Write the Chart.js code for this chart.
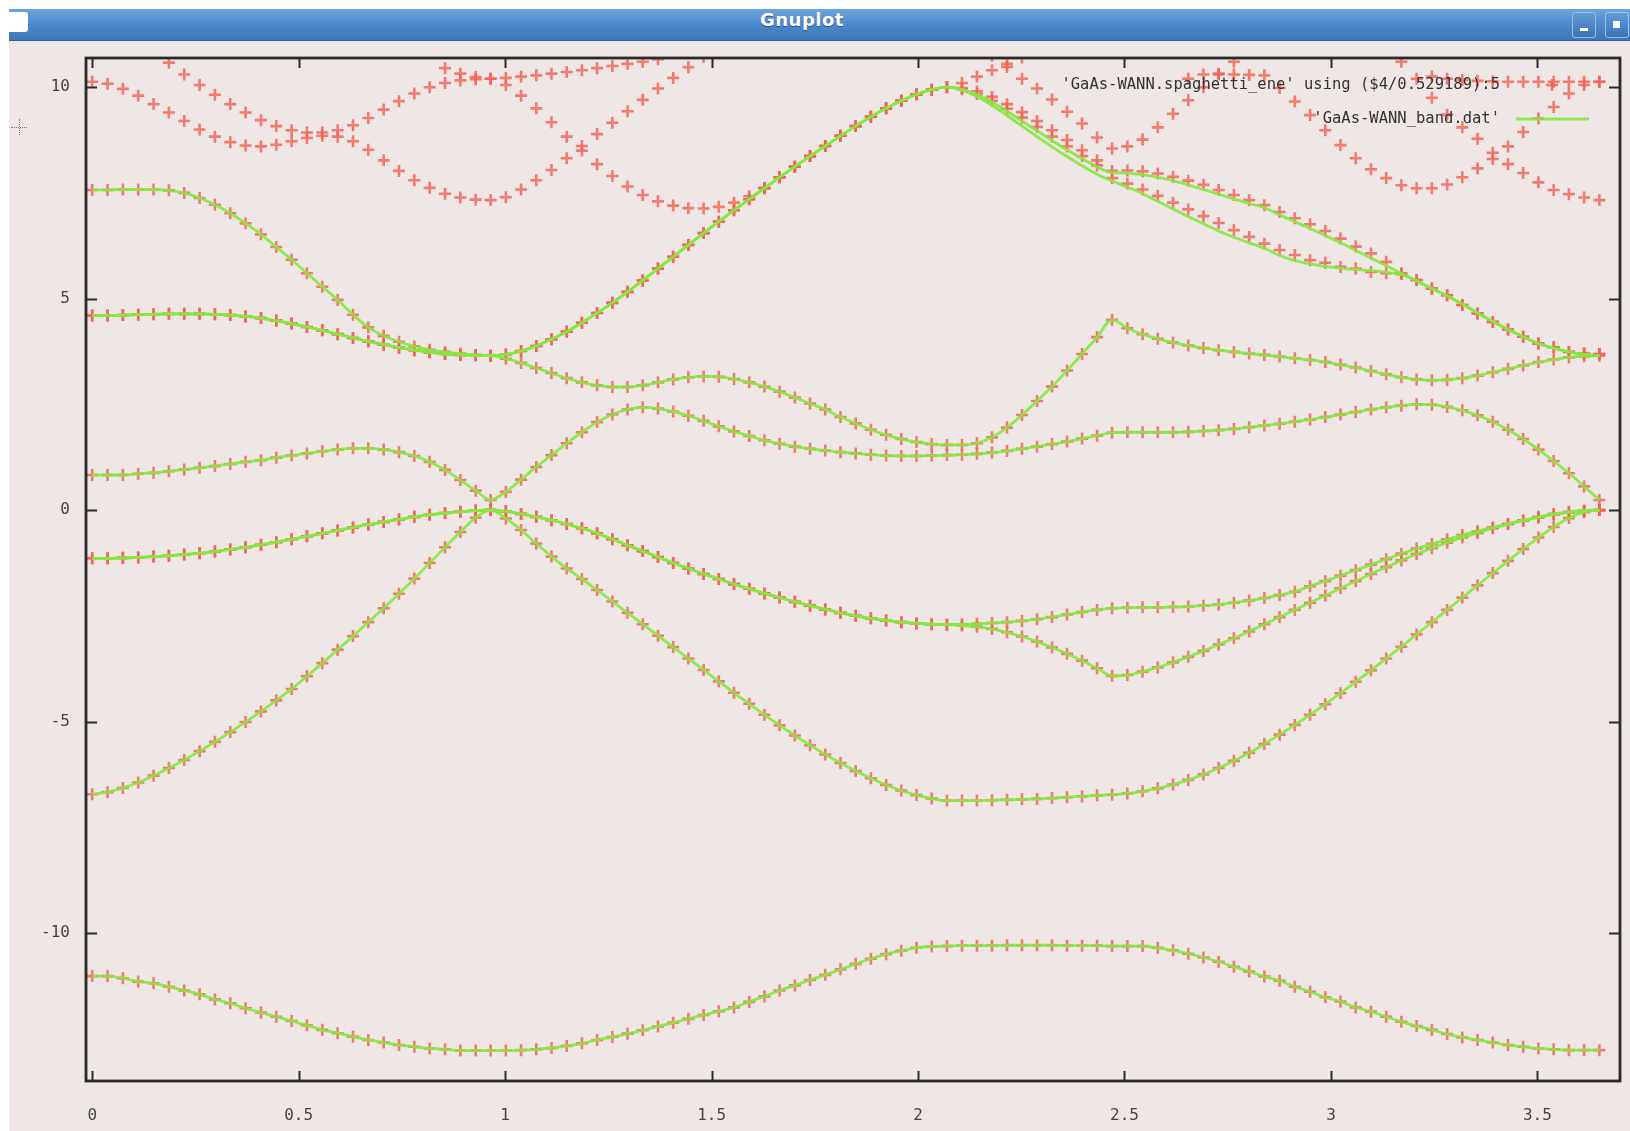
<!DOCTYPE html>
<html>
<head>
<meta charset="utf-8">
<title>Gnuplot</title>
<script src="https://cdn.jsdelivr.net/npm/chart.js@4.4.1/dist/chart.umd.min.js"></script>
<style>
  body { margin: 0; background: #fff; width: 1630px; height: 1131px; overflow: hidden; position: relative; }
  #win { position: absolute; left: 9px; top: 9px; width: 1621px; height: 1122px; background: #efe7e5; }
  #bar { position: absolute; left: 9px; top: 9px; width: 1621px; height: 31px;
         background: linear-gradient(#6ea5dd, #4a86c8 55%, #3c77ba); border-bottom: 1px solid #2f5f98; }
  #bar span { position: absolute; left: 0; width: 1586px; top: 0; line-height: 31px; text-align: center;
              color: #fff; font: bold 18px "DejaVu Sans", sans-serif; letter-spacing: 0.5px; text-shadow: 0 1px 1px #274d7c; }
  #icon { position: absolute; left: 9px; top: 12px; width: 19px; height: 20px; background: #fff; border-radius: 0 3px 3px 0; }
  .btn { position: absolute; top: 12px; width: 22px; height: 24px; border: 1px solid #9cc2ea; border-radius: 3px;
         background: linear-gradient(#5f9ad8, #3b76b9); }
  .btn i { position: absolute; background: #fff; }
  #cur1 { position: absolute; left: 11px; top: 127px; width: 16px; height: 0; border-top: 1px dotted #777; }
  #cur2 { position: absolute; left: 19px; top: 119px; width: 0; height: 16px; border-left: 1px dotted #777; }
  #box { position: absolute; left: 0; top: 0; width: 1630px; height: 1131px; }
</style>
</head>
<body>
<div id="win"></div>
<div id="bar"><span>Gnuplot</span></div>
<div id="icon"></div>
<div class="btn" style="left:1572px"><i style="left:7px;top:15px;width:8px;height:3px"></i></div>
<div class="btn" style="left:1605px"><i style="left:7px;top:8px;width:7px;height:7px"></i></div>
<div id="cur1"></div><div id="cur2"></div>
<div id="box"><canvas id="plot"></canvas></div>
<script>
// k-path positions (L - Gamma - X - K - Gamma), one per sample
var kPath = [0, 0.0372, 0.0743, 0.1115, 0.1486, 0.1858, 0.2229, 0.2601, 0.2972, 0.3344, 0.3715, 0.4087, 0.4458, 0.483, 0.5201, 0.5573, 0.5944, 0.6316, 0.6687, 0.7059, 0.743, 0.7802, 0.8173, 0.8545, 0.8916, 0.9288, 0.965,
  1.0018, 1.0387, 1.0755, 1.1123, 1.1492, 1.186, 1.2228, 1.2597, 1.2965, 1.3333, 1.3702, 1.407, 1.4438, 1.4807, 1.5175, 1.5543, 1.5912, 1.628, 1.6648, 1.7017, 1.7385, 1.7753, 1.8122, 1.849, 1.8858, 1.9227, 1.9595, 1.9963, 2.0332, 2.07,
  2.1064, 2.1427, 2.1791, 2.2155, 2.2518, 2.2882, 2.3245, 2.3609, 2.3973, 2.4336, 2.47,
  2.5069, 2.5438, 2.5806, 2.6175, 2.6544, 2.6913, 2.7281, 2.765, 2.8019, 2.8388, 2.8756, 2.9125, 2.9494, 2.9863, 3.0231, 3.06, 3.0969, 3.1338, 3.1706, 3.2075, 3.2444, 3.2813, 3.3181, 3.355, 3.3919, 3.4288, 3.4656, 3.5025, 3.5394, 3.5763, 3.6131, 3.65];

// Wannier interpolated bands (green lines), eV
var band1 = [-11.02, -11.02, -11.07, -11.15, -11.19, -11.27, -11.36, -11.45, -11.57, -11.66, -11.78, -11.88, -11.98, -12.08, -12.18, -12.29, -12.37, -12.45, -12.53, -12.59, -12.65, -12.69, -12.73, -12.75, -12.78, -12.78, -12.78,
  -12.78, -12.77, -12.75, -12.72, -12.67, -12.61, -12.53, -12.46, -12.38, -12.3, -12.21, -12.12, -12.03, -11.94, -11.85, -11.76, -11.63, -11.5, -11.36, -11.24, -11.11, -10.99, -10.86, -10.73, -10.61, -10.5, -10.42, -10.35, -10.32, -10.31,
  -10.3, -10.3, -10.3, -10.29, -10.29, -10.29, -10.29, -10.3, -10.3, -10.3, -10.31,
  -10.31, -10.31, -10.35, -10.41, -10.49, -10.58, -10.68, -10.8, -10.91, -11.03, -11.13, -11.27, -11.39, -11.52, -11.62, -11.76, -11.86, -11.98, -12.1, -12.2, -12.29, -12.39, -12.47, -12.53, -12.59, -12.65, -12.69, -12.73, -12.75, -12.77, -12.77, -12.77];
var band2 = [-6.72, -6.67, -6.57, -6.44, -6.28, -6.1, -5.91, -5.7, -5.48, -5.25, -5.01, -4.76, -4.5, -4.23, -3.93, -3.62, -3.3, -2.98, -2.65, -2.32, -1.98, -1.62, -1.25, -0.88, -0.52, -0.18, 0,
  -0.2, -0.47, -0.79, -1.1, -1.38, -1.63, -1.89, -2.16, -2.43, -2.7, -2.97, -3.24, -3.51, -3.78, -4.05, -4.32, -4.58, -4.84, -5.09, -5.33, -5.56, -5.78, -5.98, -6.17, -6.34, -6.5, -6.63, -6.74, -6.82, -6.87,
  -6.87, -6.87, -6.86, -6.85, -6.84, -6.83, -6.81, -6.79, -6.77, -6.75, -6.73,
  -6.7, -6.65, -6.58, -6.49, -6.38, -6.25, -6.1, -5.93, -5.74, -5.53, -5.31, -5.08, -4.84, -4.59, -4.33, -4.06, -3.79, -3.51, -3.23, -2.94, -2.65, -2.36, -2.07, -1.78, -1.49, -1.2, -0.92, -0.65, -0.4, -0.19, -0.05, 0];
var band3 = [-1.14, -1.14, -1.13, -1.12, -1.1, -1.08, -1.05, -1.02, -0.98, -0.93, -0.88, -0.82, -0.76, -0.69, -0.62, -0.55, -0.48, -0.41, -0.34, -0.28, -0.22, -0.16, -0.11, -0.07, -0.04, -0.01, 0,
  -0.03, -0.09, -0.16, -0.24, -0.33, -0.43, -0.55, -0.69, -0.83, -0.97, -1.11, -1.25, -1.38, -1.51, -1.63, -1.75, -1.86, -1.97, -2.07, -2.17, -2.26, -2.35, -2.43, -2.5, -2.56, -2.61, -2.65, -2.68, -2.7, -2.71,
  -2.73, -2.76, -2.81, -2.89, -2.99, -3.11, -3.25, -3.4, -3.56, -3.74, -3.92,
  -3.9, -3.82, -3.72, -3.6, -3.47, -3.33, -3.18, -3.03, -2.87, -2.7, -2.53, -2.36, -2.19, -2.02, -1.85, -1.68, -1.51, -1.35, -1.19, -1.04, -0.9, -0.77, -0.65, -0.54, -0.43, -0.33, -0.24, -0.16, -0.09, -0.04, -0.01, 0];
var band4 = [-1.14, -1.14, -1.13, -1.12, -1.1, -1.08, -1.05, -1.02, -0.98, -0.93, -0.88, -0.82, -0.76, -0.69, -0.62, -0.55, -0.48, -0.41, -0.34, -0.28, -0.22, -0.16, -0.11, -0.07, -0.04, -0.01, 0,
  -0.03, -0.09, -0.16, -0.24, -0.33, -0.43, -0.55, -0.69, -0.83, -0.97, -1.11, -1.25, -1.38, -1.51, -1.63, -1.75, -1.86, -1.97, -2.07, -2.17, -2.26, -2.35, -2.43, -2.5, -2.56, -2.61, -2.65, -2.68, -2.7, -2.71,
  -2.7, -2.69, -2.67, -2.65, -2.62, -2.58, -2.53, -2.47, -2.41, -2.36, -2.32,
  -2.31, -2.3, -2.3, -2.29, -2.28, -2.26, -2.23, -2.19, -2.14, -2.08, -2.01, -1.93, -1.8, -1.68, -1.55, -1.42, -1.29, -1.16, -1.03, -0.91, -0.8, -0.69, -0.59, -0.5, -0.41, -0.33, -0.25, -0.18, -0.11, -0.06, -0.02, 0];
var band5 = [0.83, 0.83, 0.83, 0.86, 0.88, 0.92, 0.96, 1.0, 1.04, 1.09, 1.14, 1.18, 1.24, 1.29, 1.34, 1.39, 1.43, 1.46, 1.46, 1.43, 1.37, 1.28, 1.14, 0.95, 0.71, 0.46, 0.24,
  0.43, 0.72, 1.02, 1.3, 1.58, 1.84, 2.08, 2.26, 2.38, 2.43, 2.4, 2.33, 2.23, 2.11, 1.98, 1.86, 1.75, 1.65, 1.57, 1.5, 1.45, 1.41, 1.37, 1.34, 1.31, 1.29, 1.28, 1.28, 1.29, 1.3,
  1.31, 1.33, 1.36, 1.4, 1.45, 1.5, 1.56, 1.62, 1.69, 1.76, 1.83,
  1.84, 1.84, 1.84, 1.84, 1.85, 1.87, 1.89, 1.92, 1.96, 2.0, 2.04, 2.09, 2.14, 2.2, 2.26, 2.32, 2.38, 2.43, 2.47, 2.5, 2.49, 2.44, 2.36, 2.24, 2.09, 1.9, 1.68, 1.43, 1.16, 0.87, 0.56, 0.24];
var band6 = [4.6, 4.6, 4.61, 4.62, 4.63, 4.64, 4.64, 4.64, 4.63, 4.61, 4.58, 4.54, 4.48, 4.41, 4.33, 4.25, 4.16, 4.07, 3.99, 3.91, 3.84, 3.78, 3.73, 3.69, 3.67, 3.66, 3.65,
  3.58, 3.48, 3.36, 3.24, 3.12, 3.02, 2.95, 2.91, 2.91, 2.95, 3.02, 3.09, 3.14, 3.16, 3.15, 3.1, 3.02, 2.92, 2.8, 2.66, 2.52, 2.38, 2.2, 2.05, 1.9, 1.78, 1.68, 1.61, 1.56, 1.54,
  1.54, 1.58, 1.72, 1.95, 2.25, 2.58, 2.92, 3.3, 3.69, 4.09, 4.5,
  4.3, 4.16, 4.05, 3.96, 3.89, 3.83, 3.78, 3.74, 3.7, 3.67, 3.63, 3.59, 3.55, 3.5, 3.44, 3.37, 3.29, 3.21, 3.14, 3.09, 3.07, 3.08, 3.12, 3.18, 3.26, 3.34, 3.42, 3.5, 3.56, 3.61, 3.64, 3.65];
var band7 = [4.6, 4.6, 4.61, 4.62, 4.63, 4.64, 4.64, 4.64, 4.63, 4.61, 4.58, 4.54, 4.48, 4.41, 4.33, 4.25, 4.16, 4.07, 3.99, 3.91, 3.84, 3.78, 3.73, 3.69, 3.67, 3.66, 3.65,
  3.68, 3.76, 3.88, 4.04, 4.22, 4.43, 4.66, 4.9, 5.16, 5.43, 5.71, 5.99, 6.27, 6.55, 6.82, 7.09, 7.35, 7.61, 7.87, 8.12, 8.37, 8.61, 8.85, 9.08, 9.3, 9.5, 9.68, 9.83, 9.94, 10.0,
  9.93, 9.78, 9.57, 9.33, 9.08, 8.83, 8.59, 8.36, 8.14, 7.94, 7.78,
  7.64, 7.48, 7.3, 7.12, 6.94, 6.77, 6.6, 6.45, 6.32, 6.19, 6.02, 5.9, 5.82, 5.76, 5.72, 5.69, 5.66, 5.62, 5.57, 5.42, 5.24, 5.07, 4.87, 4.66, 4.46, 4.27, 4.1, 3.94, 3.83, 3.74, 3.68, 3.65];
var band8 = [7.57, 7.57, 7.58, 7.58, 7.58, 7.56, 7.5, 7.38, 7.22, 7.02, 6.78, 6.52, 6.22, 5.92, 5.6, 5.28, 4.97, 4.62, 4.32, 4.12, 3.98, 3.87, 3.79, 3.74, 3.7, 3.67, 3.65,
  3.68, 3.76, 3.88, 4.04, 4.22, 4.43, 4.66, 4.9, 5.16, 5.43, 5.71, 5.99, 6.27, 6.55, 6.82, 7.09, 7.35, 7.61, 7.87, 8.12, 8.37, 8.61, 8.85, 9.08, 9.3, 9.5, 9.68, 9.83, 9.94, 10.0,
  9.95, 9.83, 9.65, 9.43, 9.2, 8.97, 8.74, 8.52, 8.31, 8.12, 7.98,
  7.97, 7.93, 7.87, 7.79, 7.69, 7.58, 7.47, 7.36, 7.25, 7.15, 6.98, 6.82, 6.66, 6.49, 6.32, 6.14, 5.96, 5.78, 5.6, 5.42, 5.24, 5.07, 4.87, 4.66, 4.46, 4.27, 4.1, 3.94, 3.83, 3.74, 3.68, 3.65];

// spaghetti (red +) bands where they part from the Wannier lines, and the higher bands
var spag7 = [4.6, 4.6, 4.61, 4.62, 4.63, 4.64, 4.64, 4.64, 4.63, 4.61, 4.58, 4.54, 4.48, 4.41, 4.33, 4.25, 4.16, 4.07, 3.99, 3.91, 3.84, 3.78, 3.73, 3.69, 3.67, 3.66, 3.65,
  3.68, 3.76, 3.88, 4.04, 4.22, 4.43, 4.66, 4.9, 5.16, 5.43, 5.71, 5.99, 6.27, 6.55, 6.82, 7.09, 7.35, 7.61, 7.87, 8.12, 8.37, 8.61, 8.85, 9.08, 9.3, 9.5, 9.68, 9.83, 9.94, 10.0,
  9.95, 9.84, 9.68, 9.49, 9.28, 9.06, 8.83, 8.6, 8.37, 8.15, 7.85,
  7.72, 7.58, 7.43, 7.27, 7.11, 6.95, 6.79, 6.62, 6.46, 6.3, 6.15, 6.03, 5.91, 5.85, 5.75, 5.71, 5.63, 5.6, 5.58, 5.44, 5.24, 5.08, 4.85, 4.65, 4.45, 4.27, 4.1, 3.94, 3.85, 3.74, 3.7, 3.69];
var spag8 = [7.57, 7.57, 7.58, 7.58, 7.58, 7.56, 7.5, 7.38, 7.22, 7.02, 6.78, 6.52, 6.22, 5.92, 5.6, 5.28, 4.97, 4.62, 4.32, 4.12, 3.98, 3.87, 3.79, 3.74, 3.7, 3.67, 3.65,
  3.68, 3.76, 3.88, 4.04, 4.22, 4.43, 4.66, 4.9, 5.16, 5.43, 5.71, 5.99, 6.27, 6.55, 6.82, 7.09, 7.35, 7.61, 7.87, 8.12, 8.37, 8.61, 8.85, 9.08, 9.3, 9.5, 9.68, 9.83, 9.94, 10.0,
  9.98, 9.9, 9.77, 9.6, 9.41, 9.2, 8.98, 8.75, 8.51, 8.27, 8.02,
  8.03, 8.01, 7.96, 7.88, 7.79, 7.69, 7.57, 7.45, 7.33, 7.21, 7.05, 6.9, 6.76, 6.6, 6.42, 6.23, 6.07, 5.87, 5.6, 5.44, 5.24, 5.08, 4.85, 4.65, 4.45, 4.27, 4.1, 3.94, 3.85, 3.74, 3.7, 3.69];
var spag9 = [10.13, 10.08, 9.96, 9.8, 9.6, 9.4, 9.2, 9.0, 8.83, 8.7, 8.62, 8.6, 8.64, 8.72, 8.8, 8.85, 8.83, 8.72, 8.52, 8.27, 8.02, 7.8, 7.62, 7.48, 7.39, 7.34, 7.33,
  7.4, 7.58, 7.8, 8.04, 8.32, 8.61, 8.89, 9.16, 9.43, 9.7, 9.97, 10.22, 10.47, 10.72, null, null, null, null, null, null, null, null, null, null, null, null, null, null, null, null,
  null, null, 10.75, 10.48, 10.2, 9.97, 9.71, 9.42, 9.14, 8.81, 8.55,
  8.6, 8.76, 9.05, 9.37, 9.69, 10.0, 10.3, 10.6, null, null, null, null, null, null, null, null, null, null, null, null, null, null, null, null, null, null, null, null, null, null, null, null];
var spag10 = [null, null, null, null, 10.85, 10.58, 10.3, 10.05, 9.82, 9.6, 9.4, 9.22, 9.08, 8.98, 8.93, 8.93, 8.98, 9.1, 9.27, 9.47, 9.67, 9.85, 10.0, 10.1, 10.16, 10.19, 10.2,
  10.05, 9.8, 9.5, 9.17, 8.83, 8.5, 8.18, 7.9, 7.65, 7.45, 7.3, 7.2, 7.14, 7.13, 7.17, 7.27, 7.42, 7.62, 7.87, 8.12, 8.37, 8.61, 8.85, 9.08, 9.3, 9.5, 9.68, 9.83, 9.94, 10.0,
  10.1, 10.25, 10.4, 10.55, 10.7, null, null, null, null, null, null,
  null, null, null, null, 10.2, 10.3, 10.32, 10.3, 10.29, 10.28, 9.98, 9.66, 9.34, 8.98, 8.63, 8.32, 8.06, 7.85, 7.68, 7.61, 7.61, 7.7, 7.87, 8.08, 8.3, 8.6, 8.94, 9.26, 9.53, 9.85, 10.05, 10.13];
var spag11 = [null, null, null, null, null, null, null, null, null, null, null, null, null, null, null, null, null, null, null, null, null, null, null, 10.45, 10.32, 10.24, 10.2,
  10.22, 10.25, 10.28, 10.32, 10.36, 10.4, 10.45, 10.5, 10.55, 10.6, 10.66, null, null, null, null, null, null, null, null, null, null, null, null, null, null, null, null, null, null, null,
  null, null, null, null, null, null, null, null, null, null, null,
  null, null, null, null, null, null, null, null, null, null, null, null, null, null, null, null, null, null, 10.6, 10.2, 9.75, 9.35, 9.05, 8.78, 8.45, 8.18, 7.97, 7.75, 7.57, 7.47, 7.39, 7.33];
var spag12 = [null, null, null, null, null, null, null, null, null, null, null, null, null, null, null, null, null, null, null, null, null, null, null, null, null, null, null,
  null, null, null, null, null, null, null, null, null, null, null, null, null, null, null, null, null, null, null, null, null, null, null, null, null, null, null, null, null, null,
  null, null, null, null, null, null, null, null, null, null, null,
  null, null, null, null, null, null, null, null, null, null, null, null, null, null, null, null, null, null, null, null, 10.25, 10.2, 10.17, 10.15, 10.14, 10.13, 10.13, 10.13, 10.13, 10.13, 10.13, 10.13];

var xTicks = [0, 0.5, 1, 1.5, 2, 2.5, 3, 3.5];
var yTicks = [-10, -5, 0, 5, 10];
var key1 = "'GaAs-WANN.spaghetti_ene' using ($4/0.529189):5";
var key2 = "'GaAs-WANN_band.dat'";

var RED = 'rgba(242, 96, 82, 0.8)';
var GREEN = 'rgba(132, 232, 62, 0.9)';
var MONO = '"DejaVu Sans Mono", "Liberation Mono", monospace';

function pts(ys) {
  return kPath.map(function (k, i) { return { x: k, y: ys[i] }; });
}

var lineBands = [band1, band2, band3, band4, band5, band6, band7, band8];
var markBands = [band1, band2, band3, band4, band5, band6, spag7, spag8, spag9, spag10, spag11, spag12];

var datasets = [];
// green lines first so they sit on top of the crosses
lineBands.forEach(function (b) {
  datasets.push({
    data: pts(b), showLine: true, pointRadius: 0, borderColor: GREEN, borderWidth: 2.8,
    cubicInterpolationMode: 'monotone', fill: false
  });
});
markBands.forEach(function (b) {
  datasets.push({
    data: pts(b), showLine: false, pointStyle: 'cross', pointRadius: 6,
    pointBorderColor: RED, pointBorderWidth: 2.6, pointBackgroundColor: RED
  });
});

const gnuFrame = {
  id: 'gnuFrame',
  afterDatasetsDraw(chart) {
    const c = chart.ctx, a = chart.chartArea, x = chart.scales.x, y = chart.scales.y;
    function seg(x1, y1, x2, y2) { c.beginPath(); c.moveTo(x1, y1); c.lineTo(x2, y2); c.stroke(); }
    c.save();
    // key
    c.font = '15.5px ' + MONO;
    c.fillStyle = '#333';
    c.textAlign = 'right';
    c.textBaseline = 'middle';
    c.fillText(key1, a.right - 120, a.top + 27);
    c.fillText(key2, a.right - 120, a.top + 61);
    c.strokeStyle = RED; c.lineWidth = 2.6;
    seg(a.right - 74, a.top + 27, a.right - 62, a.top + 27);
    seg(a.right - 68, a.top + 21, a.right - 68, a.top + 33);
    c.strokeStyle = GREEN; c.lineWidth = 2.8;
    seg(a.right - 104, a.top + 61, a.right - 31, a.top + 61);
    // border and inward ticks
    c.strokeStyle = '#2a2a2a';
    c.lineWidth = 2.8;
    c.strokeRect(a.left, a.top, a.right - a.left, a.bottom - a.top);
    c.lineWidth = 2;
    xTicks.forEach(function (v) {
      const px = Math.round(x.getPixelForValue(v)) + 0.5;
      seg(px, a.bottom, px, a.bottom - 10);
      seg(px, a.top, px, a.top + 10);
    });
    yTicks.forEach(function (v) {
      const py = Math.round(y.getPixelForValue(v)) + 0.5;
      seg(a.left, py, a.left + 11, py);
      seg(a.right, py, a.right - 11, py);
    });
    c.restore();
  }
};

new Chart(document.getElementById('plot'), {
  type: 'scatter',
  data: { datasets: datasets },
  plugins: [gnuFrame],
  options: {
    responsive: true,
    maintainAspectRatio: false,
    devicePixelRatio: 1,
    animation: false,
    layout: { padding: { left: 26, top: 58, right: 10, bottom: 10 } },
    plugins: { legend: { display: false }, tooltip: { enabled: false } },
    scales: {
      x: {
        type: 'linear', min: -0.015, max: 3.70,
        grid: { display: false, drawTicks: false, tickLength: 0 },
        border: { display: false },
        afterBuildTicks: function (s) { s.ticks = xTicks.map(function (v) { return { value: v }; }); },
        afterFit: function (s) { s.height = 40; },
        ticks: { padding: 25, color: '#444', font: { family: MONO, size: 16 }, maxRotation: 0,
                 callback: function (v) { return String(v); } }
      },
      y: {
        type: 'linear', min: -13.5, max: 10.69,
        grid: { display: false, drawTicks: false, tickLength: 0 },
        border: { display: false },
        afterBuildTicks: function (s) { s.ticks = yTicks.map(function (v) { return { value: v }; }); },
        afterFit: function (s) { s.width = 60; },
        ticks: { padding: 16, color: '#444', font: { family: MONO, size: 16 },
                 callback: function (v) { return String(v); } }
      }
    }
  }
});
</script>
</body>
</html>
